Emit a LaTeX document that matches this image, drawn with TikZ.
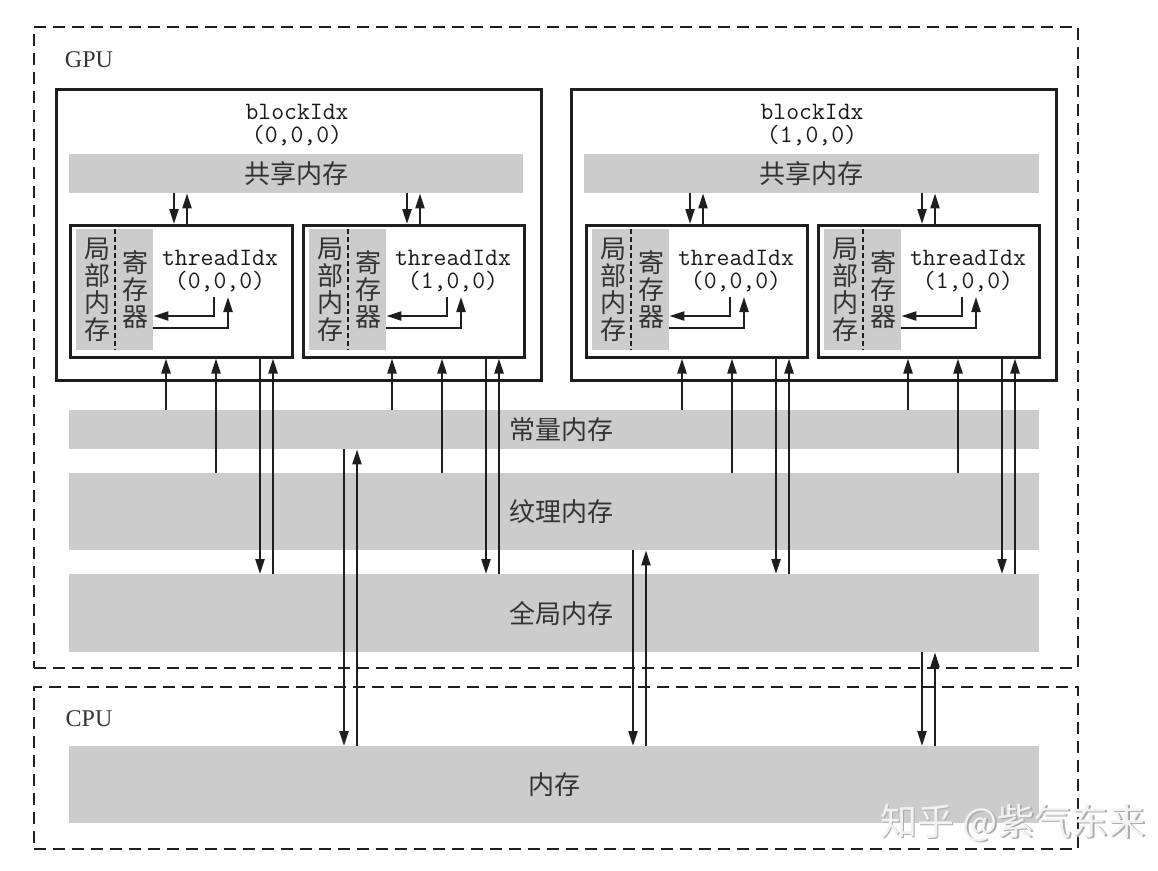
\documentclass[tikz,border=0pt]{standalone}
\usepackage{fontspec}
\setmainfont{Liberation Serif}
\newfontfamily\cjk{Noto Sans CJK SC}
\usetikzlibrary{arrows.meta,calc}
\definecolor{barfill}{HTML}{CCCCCC}
\definecolor{ink}{HTML}{1E1E1E}
\tikzset{
 dashbox/.style={draw=ink, line width=2pt, dash pattern=on 12pt off 7pt, inner sep=0pt, anchor=north west},
 blkbox/.style={draw=ink, line width=2.5pt, fill=white, inner sep=0pt, anchor=north west},
 bar/.style={fill=barfill, draw=none, inner sep=0pt, anchor=north west},
 arr/.style={line width=2.2pt, draw=ink, -{Triangle[width=9pt,length=15pt]}},
 cjklab/.style={font=\cjk\fontsize{26}{27}\selectfont, text=black!80, inner sep=0pt},
 vcjk/.style={font=\cjk\fontsize{26}{27}\selectfont, text=black!80, inner sep=0pt, align=center},
 monolab/.style={font=\ttfamily\fontsize{25}{23}\selectfont, text=black!90, align=center, inner sep=0pt},
 serlab/.style={font=\fontsize{24}{26}\selectfont, text=black!80, inner sep=0pt},
 sepline/.style={line width=1.8pt, draw=ink, dash pattern=on 5pt off 3pt},
}
% #1 name, #2 x, #3 y, #4 width, #5 idx, #6 shared memory node, #7 first bottom offset
\newcommand\thrbox[7]{%
 \node[blkbox, minimum width=#4pt, minimum height=132pt] (#1) at (#2,#3) {};
 \node[bar, minimum width=77pt, minimum height=121pt] (#1g) at ($(#1.north west)+(7,5)$) {};
 \draw[sepline] (#1g.north) -- (#1g.south);
 \node[vcjk] (#1l) at ($(#1.north west)+(28.5,66)$) {局\\部\\内\\存};
 \node[vcjk] (#1r) at ($(#1.north west)+(66,66)$) {寄\\存\\器};
 \node[monolab] (#1t) at ($(#1.north west)+(151,47.5)$) {threadIdx\\(#5)};
 \coordinate (#1a) at ($(#1.north west)+(145,73)$);
 \coordinate (#1b) at ($(#1.north west)+(159,73)$);
 \draw[arr] (#1a) |- ($(#1g.north east)+(0,87)$);
 \draw[arr] ($(#1g.north east)+(0,99)$) -| (#1b);
 \coordinate (#1u) at ($(#1.north west)+(105,0)$);
 \coordinate (#1v) at ($(#1.north west)+(118,0)$);
 \draw[arr] (#1u |- #6.south) -- (#1u);
 \draw[arr] (#1v) -- (#1v |- #6.south);
 \coordinate (#1p) at ($(#1.south west)+(#7,0)$);
 \coordinate (#1q) at ($(#1.south west)+(#7+50,0)$);
 \coordinate (#1s) at ($(#1.south west)+(#7+94,0)$);
 \coordinate (#1w) at ($(#1.south west)+(#7+107,0)$);
 \draw[arr] (#1p |- const.north) -- (#1p);
 \draw[arr] (#1q |- tex.north) -- (#1q);
 \draw[arr] (#1s) -- (#1s |- glob.north);
 \draw[arr] (#1w |- glob.north) -- (#1w);
}
\begin{document}
\begin{tikzpicture}[x=1pt,y=-1pt]
\useasboundingbox (0,0) rectangle (1158,870);
\fill[white] (0,0) rectangle (1158,870);

% outer dashed regions
\node[dashbox, minimum width=1044pt, minimum height=641pt] (gpu) at (33,26) {};
\node[dashbox, minimum width=1044pt, minimum height=162pt] (cpu) at (33,686) {};
\node[serlab] (gpul) at (89,60) {GPU};
\node[serlab] (cpul) at (89,719) {CPU};

% memory bars
\node[bar, minimum width=970pt, minimum height=39pt] (const) at (69,410) {};
\node[bar, minimum width=970pt, minimum height=77pt] (tex) at (69,473) {};
\node[bar, minimum width=970pt, minimum height=78pt] (glob) at (69,574) {};
\node[bar, minimum width=970pt, minimum height=77pt, font=\cjk\fontsize{26}{27}\selectfont, text=black!80] (mem) at (69,746) {内存};
\node[cjklab] (constl) at (561,430) {常量内存};
\node[cjklab] (texl) at (561,512) {纹理内存};
\node[cjklab] (globl) at (561,613) {全局内存};

% blocks
\node[blkbox, minimum width=485pt, minimum height=291pt] (blk0) at (55,88) {};
\node[blkbox, minimum width=485pt, minimum height=291pt] (blk1) at (570,88) {};
\node[monolab] (blk0l) at (297,125) {blockIdx\\(0,0,0)};
\node[monolab] (blk1l) at (812,125) {blockIdx\\(1,0,0)};
\node[bar, minimum width=454pt, minimum height=39pt, font=\cjk\fontsize{26}{27}\selectfont, text=black!80] (shm0) at (69,154) {共享内存};
\node[bar, minimum width=455pt, minimum height=39pt, font=\cjk\fontsize{26}{27}\selectfont, text=black!80] (shm1) at (584,154) {共享内存};

% threads
\thrbox{t00}{69}{224}{222}{0,0,0}{shm0}{97}
\thrbox{t01}{302}{224}{221}{1,0,0}{shm0}{90}
\thrbox{t10}{585}{224}{221}{0,0,0}{shm1}{97}
\thrbox{t11}{817}{224}{221}{1,0,0}{shm1}{91}

% host transfers
\coordinate (ca) at ($(const.south west)+(275,0)$);
\coordinate (cb) at ($(const.south west)+(288,0)$);
\coordinate (ta) at ($(tex.south west)+(564,0)$);
\coordinate (tb) at ($(tex.south west)+(577,0)$);
\coordinate (ga) at ($(glob.south west)+(853,0)$);
\coordinate (gb) at ($(glob.south west)+(866,0)$);
\draw[arr] (ca) -- (ca |- mem.north);
\draw[arr] (cb |- mem.north) -- (cb);
\draw[arr] (ta) -- (ta |- mem.north);
\draw[arr] (tb |- mem.north) -- (tb);
\draw[arr] (ga) -- (ga |- mem.north);
\draw[arr] (gb |- mem.north) -- (gb);

% watermark
\node[font=\cjk\fontsize{37}{37}\selectfont, text=gray!65, inner sep=0pt] (wms) at (1014.5,824.5) {知乎 @紫气东来};
\node[font=\cjk\fontsize{37}{37}\selectfont, text=gray!10, inner sep=0pt] (wm) at (1013,823) {知乎 @紫气东来};
\end{tikzpicture}
\end{document}
